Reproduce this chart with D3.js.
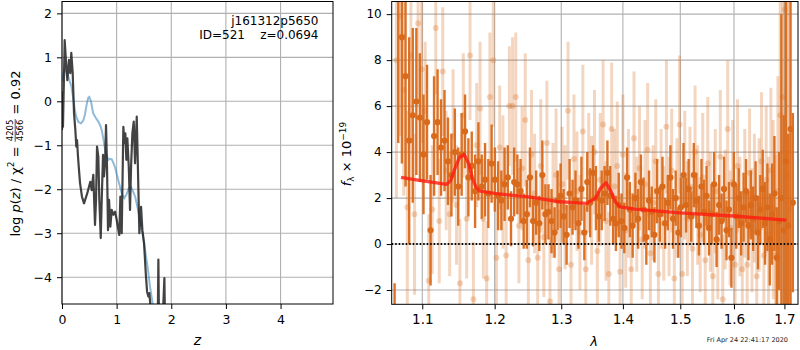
<!DOCTYPE html>
<html><head><meta charset="utf-8">
<script src="https://cdn.jsdelivr.net/npm/d3@7"></script>
<style>body{margin:0;background:#fff} text{font-family:"DejaVu Sans",sans-serif;white-space:pre}</style>
</head><body><svg id="c" width="800" height="350" xmlns="http://www.w3.org/2000/svg"></svg>
<script>
// ---------- LEFT PANEL DATA: log p(z) ----------
const zTicks = [0,1,2,3,4];
const pzTicks = [-4,-3,-2,-1,0,1,2];
const zBlue = [0.01,0.02,0.04,0.055,0.08,0.11,0.14,0.17,0.2,0.23,0.26,0.30,0.35,0.39,0.42,0.45,0.48,0.50,0.53,0.57,0.62,0.66,0.70,0.73,0.76,0.79,0.82,0.85,0.88,0.91,0.94,0.97,1.01,1.06,1.10,1.14,1.18,1.22,1.26,1.30,1.34,1.38,1.43,1.48,1.52,1.57,1.61,1.66,1.72,1.80];
const pBlue = [0.45,0.60,0.68,0.72,0.68,0.58,0.46,0.35,0.12,-0.15,-0.35,-0.47,-0.50,-0.43,-0.30,-0.08,0.08,0.10,0.0,-0.27,-0.38,-0.45,-0.55,-0.67,-0.88,-1.10,-1.25,-1.33,-1.31,-1.32,-1.40,-1.50,-1.70,-1.94,-2.12,-2.20,-2.12,-1.98,-1.94,-2.05,-2.17,-2.40,-2.70,-3.05,-3.38,-3.80,-4.21,-4.60,-5.10,-5.80];
const zDark = [0.0,0.01,0.018,0.049,0.079,0.097,0.128,0.152,0.170,0.196,0.220,0.244,0.262,0.275,0.293,0.311,0.330,0.366,0.403,0.463,0.518,0.544,0.573,0.604,0.623,0.641,0.665,0.683,0.709,0.727,0.751,0.769,0.788,0.806,0.824,0.842,0.861,0.885,0.910,0.940,0.971,1.002,1.026,1.049,1.068,1.093,1.123,1.141,1.159,1.178,1.196,1.222,1.245,1.264,1.288,1.313,1.337,1.368,1.386,1.416,1.447,1.471,1.502,1.533,1.557,1.581,1.599,1.617,1.648,1.703,1.749,1.764,1.780,1.832,1.874,1.890,1.941];
const pDark = [-0.65,0.2,-0.58,1.39,0.79,0.48,0.94,0.64,1.10,0.64,-0.27,-0.65,-1.03,-0.88,-1.26,-1.56,-1.86,-2.17,-2.32,-2.09,-1.83,-2.02,-1.67,-2.81,-2.24,-1.03,-1.26,-2.24,-3.11,-2.24,-1.22,-1.71,-1.41,-0.54,-1.49,-2.93,-2.24,-2.85,-2.47,-2.58,-2.51,-2.70,-2.89,-3.04,-2.17,-3.00,-0.58,-0.95,-0.73,-1.33,-0.84,-1.49,-2.47,-1.49,-0.73,-0.46,-1.41,-0.35,-1.33,-3.00,-2.40,-2.93,-3.23,-3.91,-4.33,-4.44,-4.36,-4.63,-5.5,-5.2,-5.5,-3.60,-5.5,-5.3,-4.02,-5.5,-6.0];

// ---------- RIGHT PANEL DATA: spectrum ----------
const lamTicks = [1.1,1.2,1.3,1.4,1.5,1.6,1.7];
const fluxTicks = [-2,0,2,4,6,8,10];
const lamDark = [1.0640,1.0687,1.0734,1.0781,1.0828,1.0875,1.0922,1.0969,1.1016,1.1063,
1.1110,1.1157,1.1204,1.1251,1.1298,1.1345,1.1392,1.1439,1.1486,1.1533,
1.1580,1.1627,1.1674,1.1721,1.1768,1.1815,1.1862,1.1909,1.1956,1.2003,
1.2050,1.2097,1.2144,1.2191,1.2238,1.2285,1.2332,1.2379,1.2426,1.2473,
1.2520,1.2567,1.2614,1.2661,1.2708,1.2755,1.2802,1.2849,1.2896,1.2943,
1.2990,1.3037,1.3084,1.3131,1.3178,1.3225,1.3272,1.3319,1.3366,1.3413,
1.3460,1.3507,1.3554,1.3601,1.3648,1.3695,1.3742,1.3789,1.3836,1.3883,
1.3930,1.3977,1.4024,1.4071,1.4118,1.4165,1.4212,1.4259,1.4306,1.4353,
1.4400,1.4447,1.4494,1.4541,1.4588,1.4635,1.4682,1.4729,1.4776,1.4823,
1.4870,1.4917,1.4964,1.5011,1.5058,1.5105,1.5152,1.5199,1.5246,1.5293,
1.5340,1.5387,1.5434,1.5481,1.5528,1.5575,1.5622,1.5669,1.5716,1.5763,
1.5810,1.5857,1.5904,1.5951,1.5998,1.6045,1.6092,1.6139,1.6186,1.6233,
1.6280,1.6327,1.6374,1.6421,1.6468,1.6515,1.6562,1.6609,1.6656,1.6703,
1.6750,1.6797,1.6844,1.6891,1.6938,1.6985,1.7032,1.7079,1.7126,1.7173];
const fluxDark = [-5.0,12.0,9.0,7.3,4.5,5.6,6.2,5.5,3.9,5.3,
0.6,4.7,5.3,4.2,4.5,3.6,3.0,4.0,2.5,3.9,
4.9,2.9,3.4,2.3,3.6,2.5,2.8,2.2,3.5,2.8,
2.1,1.9,2.6,2.9,1.1,2.7,2.6,2.3,1.0,1.3,
2.9,1.0,1.8,0.9,3.0,1.3,1.4,1.0,0.5,1.9,
2.1,1.2,0.4,2.2,1.6,1.9,0.9,2.4,0.5,2.7,
1.8,3.1,2.0,1.2,1.9,2.2,3.1,2.1,1.1,0.9,
1.7,1.0,0.7,2.9,1.5,0.8,2.0,1.1,2.7,1.5,
0.3,1.9,1.4,0.4,2.3,1.3,2.5,0.9,1.8,2.9,
1.1,2.0,0.5,1.6,3.0,1.7,2.4,1.2,3.0,1.9,
0.8,2.5,1.4,2.1,0.7,1.3,2.6,0.2,1.7,1.0,
2.4,0.6,1.5,-0.6,2.6,1.2,2.0,0.9,1.6,2.3,
0.8,1.7,1.1,2.0,0.5,1.5,2.4,0.9,1.6,0.2,
1.3,2.2,-0.6,1.0,2.0,0.6,3.6,0.8,5.0,1.8];
const errDark = [3.3,7.6,5.5,4.8,4.5,3.8,3.2,2.8,2.6,2.5,
2.4,2.6,2.3,2.1,2.2,1.9,1.8,1.9,1.7,1.8,
1.6,1.7,1.5,1.6,1.7,1.4,1.6,1.5,1.7,1.4,
1.5,1.3,1.6,1.4,1.2,1.5,1.3,1.4,1.2,1.5,
1.3,1.1,1.4,1.2,1.5,1.3,1.2,1.4,1.1,1.3,
1.4,1.2,1.3,1.5,1.2,1.3,1.1,1.4,1.2,1.3,
1.5,1.2,1.4,1.1,1.3,1.2,1.4,1.3,1.1,1.2,
1.4,1.2,1.1,1.3,1.2,1.4,1.1,1.3,1.2,1.4,
1.2,1.3,1.1,1.2,1.4,1.2,1.3,1.1,1.2,1.4,
1.3,1.2,1.1,1.3,1.4,1.2,1.3,1.1,1.4,1.2,
1.3,1.2,1.4,1.3,1.2,1.3,1.4,1.2,1.3,1.2,
1.4,1.3,1.2,1.3,1.4,1.4,1.3,1.4,1.5,1.4,
1.5,1.5,1.4,1.6,1.6,1.5,1.7,1.8,1.9,2.0,
2.2,2.5,2.2,3.0,8.0,5.0,8.0,4.0,15.0,3.9];
const lamLight = [1.0663,1.0710,1.0757,1.0804,1.0851,1.0898,1.0945,1.0992,1.1039,1.1086,
1.1133,1.1180,1.1227,1.1274,1.1321,1.1368,1.1415,1.1462,1.1509,1.1556,
1.1603,1.1650,1.1697,1.1744,1.1791,1.1838,1.1885,1.1932,1.1979,1.2026,
1.2073,1.2120,1.2167,1.2214,1.2261,1.2308,1.2355,1.2402,1.2449,1.2496,
1.2543,1.2590,1.2637,1.2684,1.2731,1.2778,1.2825,1.2872,1.2919,1.2966,
1.3013,1.3060,1.3107,1.3154,1.3201,1.3248,1.3295,1.3342,1.3389,1.3436,
1.3483,1.3530,1.3577,1.3624,1.3671,1.3718,1.3765,1.3812,1.3859,1.3906,
1.3953,1.4000,1.4047,1.4094,1.4141,1.4188,1.4235,1.4282,1.4329,1.4376,
1.4423,1.4470,1.4517,1.4564,1.4611,1.4658,1.4705,1.4752,1.4799,1.4846,
1.4893,1.4940,1.4987,1.5034,1.5081,1.5128,1.5175,1.5222,1.5269,1.5316,
1.5363,1.5410,1.5457,1.5504,1.5551,1.5598,1.5645,1.5692,1.5739,1.5786,
1.5833,1.5880,1.5927,1.5974,1.6021,1.6068,1.6115,1.6162,1.6209,1.6256,
1.6303,1.6350,1.6397,1.6444,1.6491,1.6538,1.6585,1.6632,1.6679,1.6726,
1.6773,1.6820,1.6867,1.6914,1.6961,1.7008,1.7055,1.7102];
const fluxLight = [8.0,9.9,6.7,1.6,8.2,1.3,9.6,7.6,5.8,-1.6,
1.5,9.4,1.0,7.5,3.2,1.3,4.7,1.7,-1.7,5.6,
1.1,8.2,-2.4,4.3,5.9,1.1,-1.5,6.4,8.0,-0.6,
4.2,2.7,-0.5,6.0,6.0,6.4,0.8,3.3,5.4,-0.7,
3.9,2.2,-0.6,3.4,0.3,4.4,-2.5,1.9,3.0,-1.1,
2.6,1.6,5.8,-0.9,3.7,2.3,0.5,4.9,-1.1,3.1,
1.9,4.0,-0.3,2.8,5.2,1.0,-1.3,5.0,2.5,3.4,
-1.2,3.9,0.6,2.2,-1.1,4.6,1.3,3.3,0.2,2.6,
4.1,-0.4,1.8,3.6,-1.3,2.4,0.9,5.1,1.2,3.2,
-1.5,2.0,5.2,-1.3,3.0,1.1,2.5,-0.2,4.0,1.7,
0.4,2.9,-0.7,3.5,1.4,-1.4,2.3,0.1,3.8,-2.4,
1.5,5.0,0.7,2.7,-0.9,3.4,1.2,-1.1,2.2,-0.9,
3.1,0.6,2.0,-1.4,1.7,3.6,-0.5,2.8,0.4,3.2,
1.5,-0.5,2.3,5.6,6.4,10.2,3.0,1.5];
const errLight = [6.0,5.2,4.6,4.2,3.8,3.5,3.3,3.2,3.0,2.9,
2.8,2.9,2.7,2.8,2.6,2.7,2.9,2.6,2.8,2.7,
2.6,2.8,2.5,2.7,2.9,2.6,2.5,2.8,2.9,2.6,
2.7,2.9,2.5,2.6,3.0,2.8,2.5,2.7,2.9,2.6,
2.8,2.6,2.5,2.9,2.6,2.7,2.8,2.5,2.9,2.6,
2.5,2.7,3.0,2.6,2.8,2.6,2.5,2.9,2.7,2.6,
2.8,2.7,2.5,2.9,2.8,2.6,2.7,2.9,2.5,2.8,
2.7,2.6,2.5,2.8,2.6,2.9,2.5,2.7,2.6,2.8,
2.9,2.6,2.5,2.7,2.8,2.6,2.5,2.9,2.6,2.7,
2.8,2.6,3.0,2.7,2.8,2.5,2.6,2.7,2.9,2.6,
2.5,2.8,2.7,2.9,2.6,2.8,2.7,2.5,2.9,2.8,
2.6,3.0,2.5,2.7,2.8,2.9,2.6,2.7,2.8,2.6,
2.8,2.7,2.8,2.9,2.9,3.0,3.1,3.2,3.4,3.6,
3.9,4.4,5.0,5.6,6.5,8.0,9.0,10.0];
const lamModel = [1.0722,1.09,1.11,1.1327,1.138,1.143,1.150,1.157,1.163,1.168,1.173,1.179,1.20,1.25,1.298,1.320,1.340,1.355,1.362,1.3718,1.380,1.387,1.395,1.42,1.4993,1.5985,1.704];
const fluxModel = [2.9,2.8,2.7,2.6,2.75,3.2,3.75,3.9,3.5,2.9,2.5,2.3,2.2,2.05,1.84,1.8,1.77,2.0,2.4,2.67,2.3,1.85,1.62,1.52,1.36,1.22,1.04];

const objName = 'j161312p5650';
const objInfo = 'ID=521    z=0.0694';
const stamp = 'Fri Apr 24 22:41:17 2020';

// ---------- DRAW ----------
const svg = d3.select('#c');
const GRID = '#b0b0b0';
const ORANGE = '#d96a1b';

// Left panel
const L = {x0:62, x1:333, y0:1.5, y1:304};
const xz = d3.scaleLinear().domain([0,4.96]).range([L.x0,L.x1]);
const yp = d3.scaleLinear().domain([-4.61,2.27]).range([L.y1,L.y0]);
const defs = svg.append('defs');
defs.append('clipPath').attr('id','clipL').append('rect').attr('x',L.x0).attr('y',L.y0).attr('width',L.x1-L.x0).attr('height',L.y1-L.y0);
const gL = svg.append('g');
gL.selectAll('.gx').data(zTicks).join('line').attr('x1',d=>xz(d)).attr('x2',d=>xz(d)).attr('y1',L.y0).attr('y2',L.y1).attr('stroke',GRID).attr('stroke-width',1.1);
gL.selectAll('.gy').data(pzTicks).join('line').attr('y1',d=>yp(d)).attr('y2',d=>yp(d)).attr('x1',L.x0).attr('x2',L.x1).attr('stroke',GRID).attr('stroke-width',1.1);
const cl = gL.append('g').attr('clip-path','url(#clipL)');
cl.append('path').datum(zBlue.map((z,i)=>[z,pBlue[i]])).attr('fill','none').attr('stroke','#1f77b4').attr('stroke-opacity',0.5).attr('stroke-width',2)
  .attr('d',d3.line().x(d=>xz(d[0])).y(d=>yp(d[1])));
cl.append('path').datum(zDark.map((z,i)=>[z,pDark[i]])).attr('fill','none').attr('stroke','#222').attr('stroke-opacity',0.85).attr('stroke-width',2.2).attr('stroke-linejoin','round')
  .attr('d',d3.line().x(d=>xz(d[0])).y(d=>yp(d[1])));
const axL1 = gL.append('g').attr('transform',`translate(0,${L.y1})`).call(d3.axisBottom(xz).tickValues(zTicks).tickSize(5).tickPadding(6).tickFormat(d3.format('d')));
const axL2 = gL.append('g').attr('transform',`translate(${L.x0},0)`).call(d3.axisLeft(yp).tickValues(pzTicks).tickSize(5).tickPadding(5).tickFormat(d3.format('d')));
gL.append('rect').attr('x',L.x0).attr('y',L.y0).attr('width',L.x1-L.x0).attr('height',L.y1-L.y0).attr('fill','none').attr('stroke','#000').attr('stroke-width',1);
[axL1,axL2].forEach(a=>{a.select('.domain').remove();a.selectAll('text').attr('font-size',12.5).attr('fill','#000').attr('font-family','DejaVu Sans');a.selectAll('line').attr('stroke','#000');});
gL.append('text').attr('x',318.5).attr('y',25).attr('text-anchor','end').attr('font-size',12).text(objName);
gL.append('text').attr('x',318.5).attr('y',39).attr('text-anchor','end').attr('font-size',12).text(objInfo);
gL.append('text').attr('x',197.5).attr('y',345).attr('text-anchor','middle').attr('font-size',14).attr('font-style','italic').text('z');

// left y label with fraction
{
  const fs = 13;
  const g = svg.append('g');
  const t1 = g.append('text').attr('font-size',fs);
  t1.append('tspan').text('log ');
  t1.append('tspan').attr('font-style','italic').text('p');
  t1.append('tspan').text('(');
  t1.append('tspan').attr('font-style','italic').text('z');
  t1.append('tspan').text(') / χ');
  t1.append('tspan').attr('font-size',fs*0.7).attr('dy',-fs*0.42).text('2');
  t1.append('tspan').attr('dy',fs*0.42).text(' = ');
  const w1 = t1.node().getComputedTextLength();
  const num = g.append('text').attr('font-size',8.5).attr('x',w1+1).attr('y',-6.5).text('4205');
  const den = g.append('text').attr('font-size',8.5).attr('x',w1+1).attr('y',3.2).text('4566');
  const fw = Math.max(num.node().getComputedTextLength(),den.node().getComputedTextLength())+2;
  g.append('line').attr('x1',w1+0.5).attr('x2',w1+fw-0.5).attr('y1',-4.3).attr('y2',-4.3).attr('stroke','#000').attr('stroke-width',0.7);
  const t2 = g.append('text').attr('font-size',fs).attr('x',w1+fw).text(' = 0.92');
  const tot = w1+fw+t2.node().getComputedTextLength();
  g.attr('transform',`translate(19.5,${153.5+tot/2}) rotate(-90)`);
}

// Right panel
const R = {x0:391.7, x1:798, y0:1.5, y1:304.3};
const xl = d3.scaleLog().domain([1.0603,1.728]).range([R.x0,R.x1]);
const yf = d3.scaleLinear().domain([-2.62,10.55]).range([R.y1,R.y0]);
defs.append('clipPath').attr('id','clipR').append('rect').attr('x',R.x0).attr('y',R.y0).attr('width',R.x1-R.x0).attr('height',R.y1-R.y0);
const gR = svg.append('g');
gR.selectAll('.gx').data(lamTicks).join('line').attr('x1',d=>xl(d)).attr('x2',d=>xl(d)).attr('y1',R.y0).attr('y2',R.y1).attr('stroke',GRID).attr('stroke-width',1.1);
gR.selectAll('.gy').data(fluxTicks).join('line').attr('y1',d=>yf(d)).attr('y2',d=>yf(d)).attr('x1',R.x0).attr('x2',R.x1).attr('stroke',GRID).attr('stroke-width',1.1);
const cr = gR.append('g').attr('clip-path','url(#clipR)');
const light = lamLight.map((l,i)=>({l,f:fluxLight[i],e:errLight[i]}));
const dark = lamDark.map((l,i)=>({l,f:fluxDark[i],e:errDark[i]}));
const gLight = cr.append('g');
gLight.selectAll('line').data(light).join('line').attr('x1',d=>xl(d.l)).attr('x2',d=>xl(d.l)).attr('y1',d=>yf(d.f-d.e)).attr('y2',d=>yf(d.f+d.e)).attr('stroke',ORANGE).attr('stroke-opacity',0.28).attr('stroke-width',3);
gLight.selectAll('circle').data(light).join('circle').attr('cx',d=>xl(d.l)).attr('cy',d=>yf(d.f)).attr('r',3).attr('fill',ORANGE).attr('fill-opacity',0.28);
const gDark = cr.append('g');
gDark.selectAll('line').data(dark).join('line').attr('x1',d=>xl(d.l)).attr('x2',d=>xl(d.l)).attr('y1',d=>yf(d.f-d.e)).attr('y2',d=>yf(d.f+d.e)).attr('stroke',ORANGE).attr('stroke-opacity',0.95).attr('stroke-width',2.4);
gDark.selectAll('circle').data(dark).join('circle').attr('cx',d=>xl(d.l)).attr('cy',d=>yf(d.f)).attr('r',3.1).attr('fill',ORANGE);
cr.append('line').attr('x1',R.x0).attr('x2',R.x1).attr('y1',yf(0)).attr('y2',yf(0)).attr('stroke','#000').attr('stroke-width',2).attr('stroke-dasharray','1.5,2');
cr.append('path').datum(lamModel.map((l,i)=>[l,fluxModel[i]])).attr('fill','none').attr('stroke','#ff1a10').attr('stroke-opacity',0.8).attr('stroke-width',3.3).attr('stroke-linejoin','round')
  .attr('d',d3.line().x(d=>xl(d[0])).y(d=>yf(d[1])));
const axR1 = gR.append('g').attr('transform',`translate(0,${R.y1})`).call(d3.axisBottom(xl).tickValues(lamTicks).tickSize(5).tickPadding(5).tickFormat(d3.format('.1f')));
const axR2 = gR.append('g').attr('transform',`translate(${R.x0},0)`).call(d3.axisLeft(yf).tickValues(fluxTicks).tickSize(5).tickPadding(5).tickFormat(d3.format('d')));
gR.append('rect').attr('x',R.x0).attr('y',R.y0).attr('width',R.x1-R.x0).attr('height',R.y1-R.y0).attr('fill','none').attr('stroke','#000').attr('stroke-width',1);
[axR1,axR2].forEach(a=>{a.select('.domain').remove();a.selectAll('line').attr('stroke','#000');a.selectAll('text').attr('fill','#000').attr('font-family','DejaVu Sans');});
axR1.selectAll('text').attr('font-size',13.5);
axR2.selectAll('text').attr('font-size',12);
gR.append('text').attr('x',594).attr('y',346).attr('text-anchor','middle').attr('font-size',13).attr('font-style','italic').text('λ');
{
  const t = svg.append('text').attr('font-size',13).attr('text-anchor','middle').attr('transform','translate(350.5,154) rotate(-90)');
  t.append('tspan').attr('font-style','italic').text('f');
  t.append('tspan').attr('font-size',9).attr('dy',3).text('λ');
  t.append('tspan').attr('dy',-3).text(' × 10');
  t.append('tspan').attr('font-size',9).attr('dy',-5).text('−19');
}
svg.append('text').attr('x',788).attr('y',342).attr('text-anchor','end').attr('font-size',6.5).attr('fill','#222').text(stamp);
</script></body></html>
